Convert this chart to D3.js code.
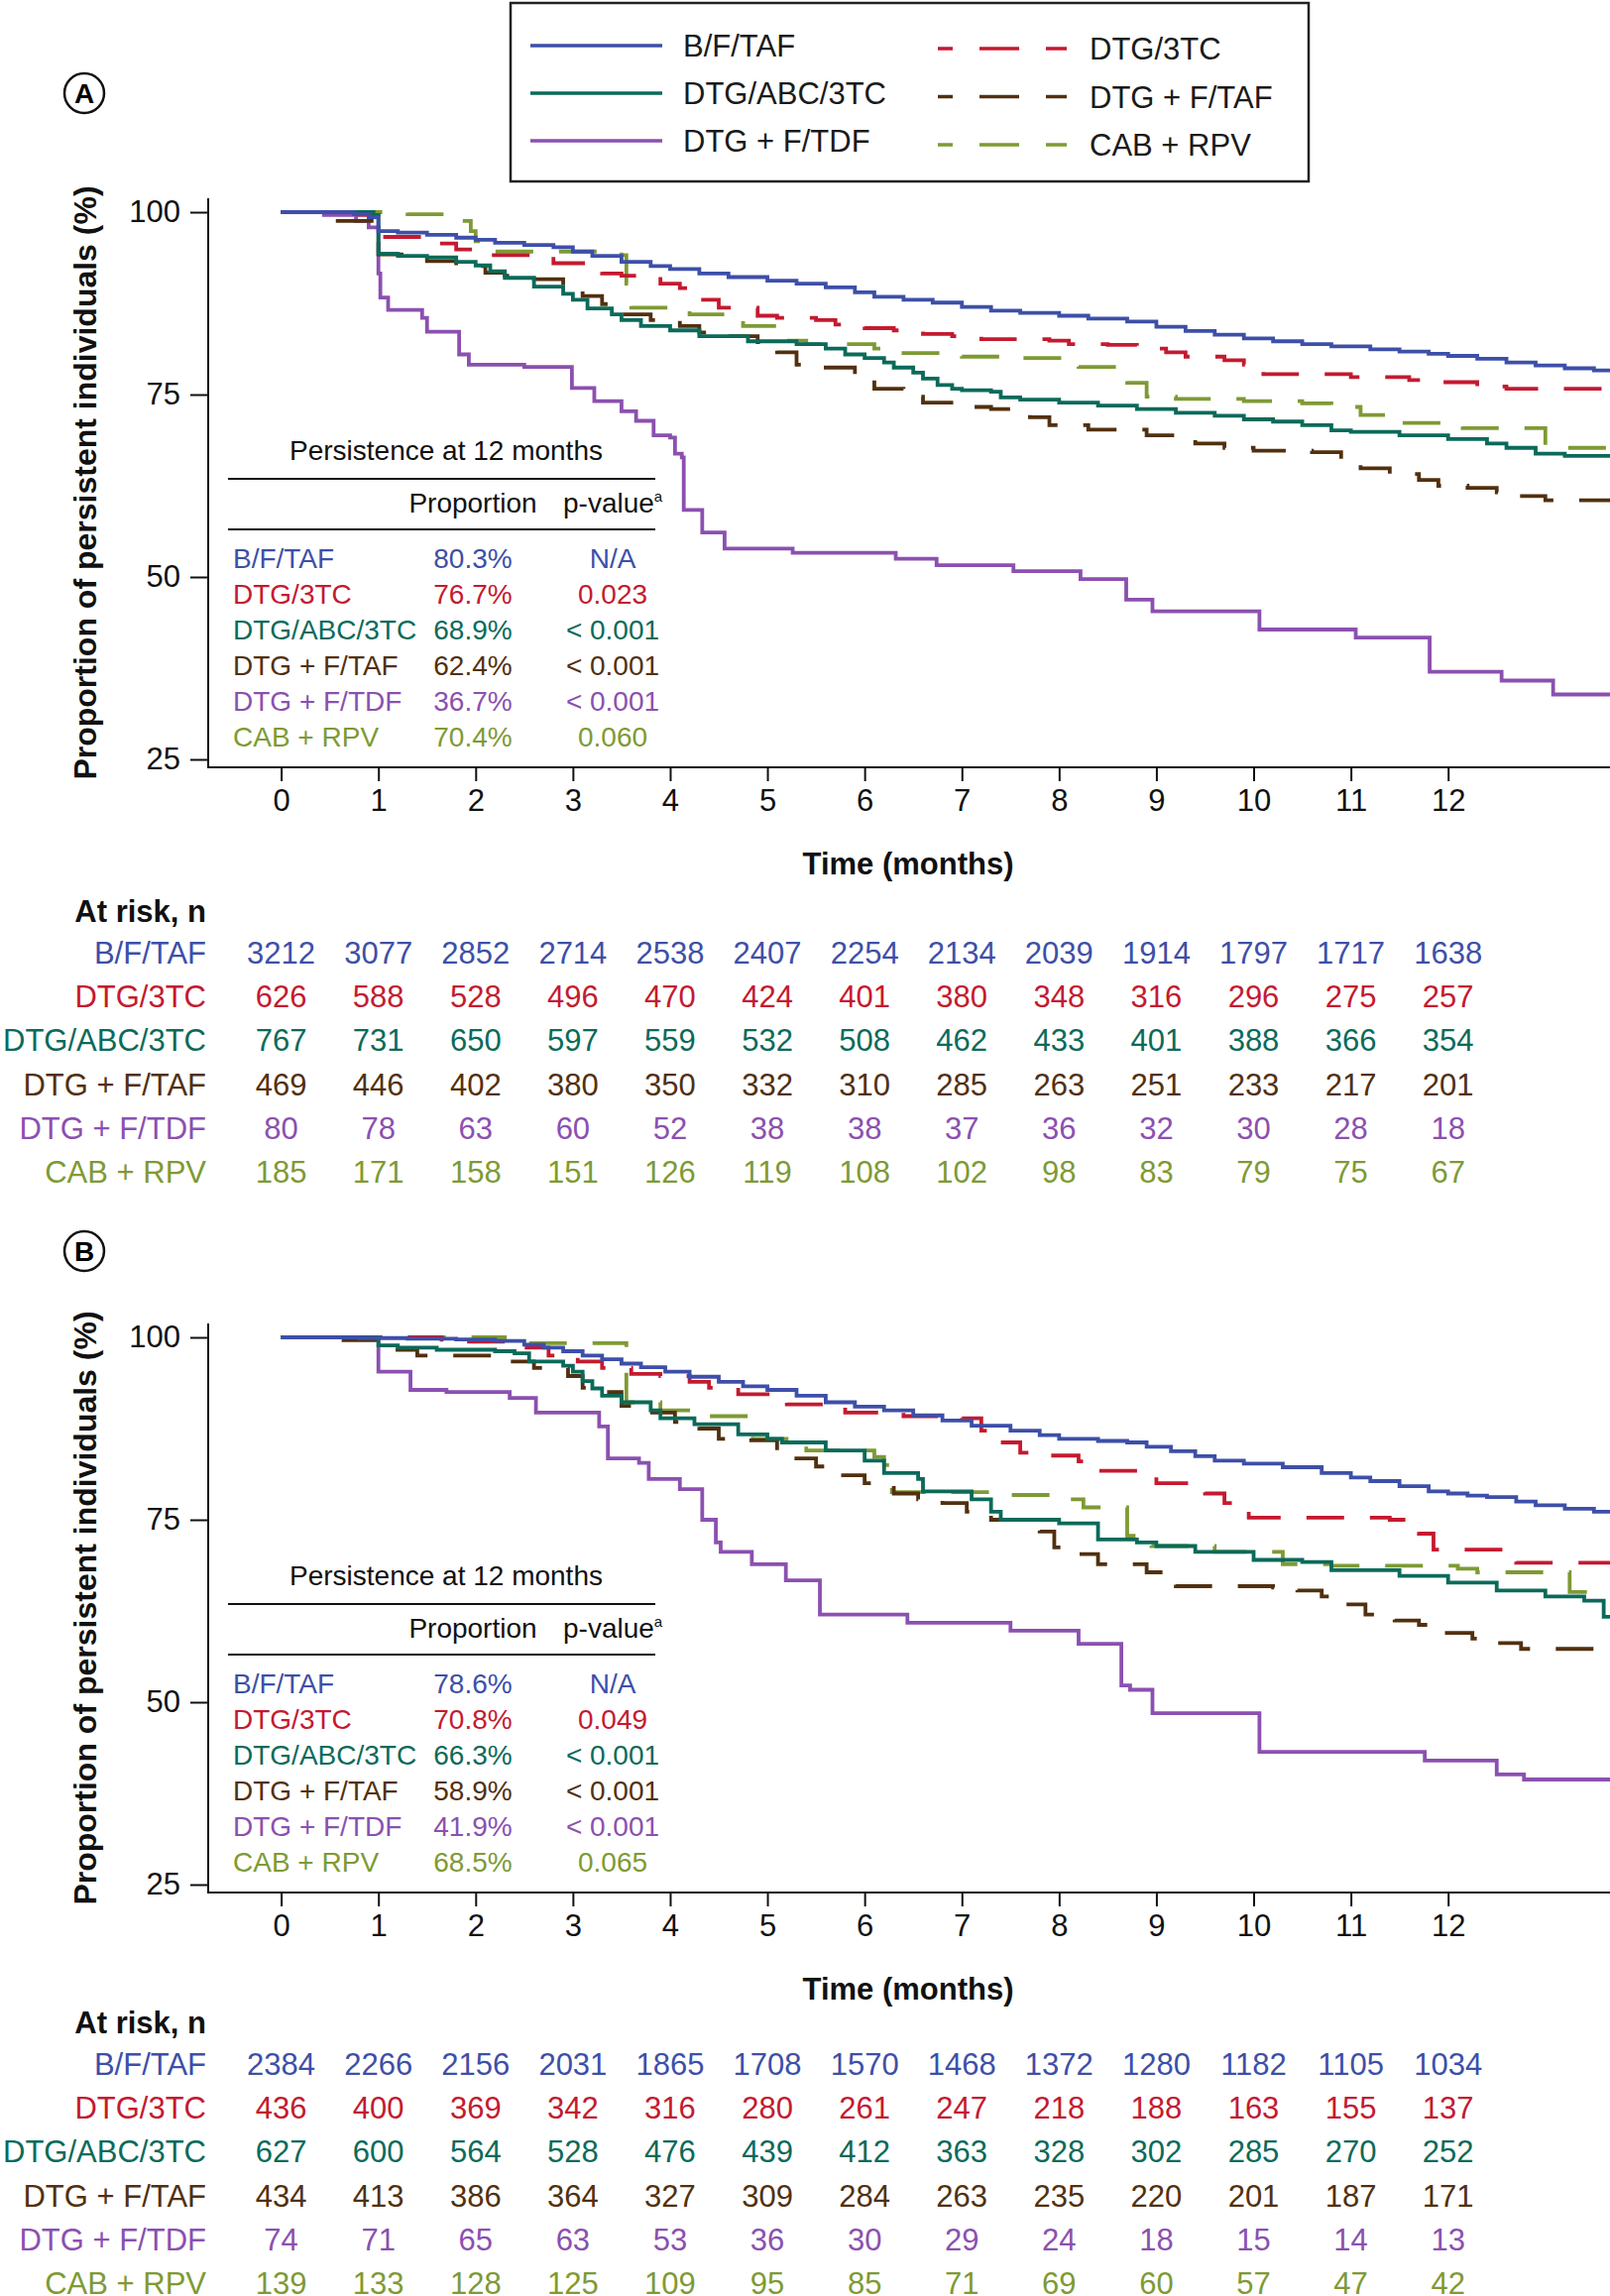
<!DOCTYPE html>
<html>
<head>
<meta charset="utf-8">
<script src="https://cdn.jsdelivr.net/npm/d3@7/dist/d3.min.js"></script>
<style>
  body { margin: 0; background: #fff; }
  svg { display: block; font-family: "Liberation Sans", Arial, Helvetica, sans-serif; }
</style>
</head>
<body>
<div id="chart"></div>
<script>
// ---- data ----
var groups = ["B/F/TAF", "DTG/3TC", "DTG/ABC/3TC", "DTG + F/TAF", "DTG + F/TDF", "CAB + RPV"];
var colors = ["#3d4fa8", "#c41a30", "#0b6a5a", "#52300f", "#8b50b0", "#7e9a34"];
var dashed = [false, true, false, true, false, true];
var monthTicks = [0, 1, 2, 3, 4, 5, 6, 7, 8, 9, 10, 11, 12];
var yTicks = [25, 50, 75, 100];

// panel A: Kaplan-Meier steps [month, %]
var bftafA = [[0,100],[0.5,100],[0.75,99.7],[0.9,99.3],[1.0,97.4],[1.2,97.2],[1.5,96.9],[1.8,96.5],[2.0,96.2],[2.2,95.8],[2.5,95.5],[2.8,95.2],[3.0,94.6],[3.2,94.0],[3.5,93.2],[3.8,92.6],[4.0,92.2],[4.3,91.6],[4.6,91.1],[5.0,90.6],[5.3,90.2],[5.6,89.7],[5.9,89.0],[6.1,88.4],[6.4,88.0],[6.7,87.6],[7.0,87.0],[7.3,86.5],[7.6,86.2],[8.0,85.8],[8.3,85.4],[8.7,85.0],[9.0,84.3],[9.3,83.7],[9.6,83.2],[9.9,82.7],[10.2,82.3],[10.5,81.9],[10.8,81.6],[11.2,81.2],[11.5,80.9],[11.8,80.6],[12.0,80.3],[12.3,79.9],[12.6,79.4],[12.9,79.0],[13.2,78.6],[13.5,78.3],[13.7,78.1]];
var dtg3tcA = [[0,100],[0.8,99.6],[1.0,96.6],[1.6,95.7],[1.8,94.9],[2.1,94.1],[2.8,93.0],[3.3,91.6],[3.5,91.3],[3.9,90.2],[4.1,89.6],[4.3,88.0],[4.5,86.9],[4.9,85.8],[5.1,85.5],[5.5,85.2],[5.7,84.6],[6.0,84.1],[6.3,83.8],[6.6,83.3],[6.9,83.0],[7.2,82.6],[7.9,82.4],[8.1,81.9],[8.5,81.8],[8.8,81.3],[9.1,80.8],[9.3,80.2],[9.7,79.7],[9.9,79.1],[10.1,77.8],[11.0,77.4],[11.6,77.0],[11.9,76.7],[12.3,76.1],[12.6,75.8],[13.7,75.6]];
var dtgabcA = [[0,100],[0.95,99.6],[1.0,94.3],[1.2,94.0],[1.5,93.8],[1.8,93.2],[2.0,92.7],[2.15,91.9],[2.3,91.0],[2.6,89.8],[2.9,88.8],[3.0,88.0],[3.15,86.8],[3.4,86.0],[3.5,85.2],[3.7,84.4],[4.0,83.8],[4.3,83.0],[4.8,82.3],[5.3,81.9],[5.6,81.3],[5.8,80.5],[6.0,80.0],[6.2,79.4],[6.3,78.7],[6.5,78.0],[6.6,77.2],[6.75,76.3],[6.9,75.8],[7.0,75.6],[7.3,75.4],[7.4,74.6],[7.6,74.3],[8.0,73.9],[8.4,73.5],[8.8,73.0],[9.2,72.5],[9.6,72.1],[9.9,71.6],[10.2,71.3],[10.5,70.8],[10.8,70.1],[11.0,69.9],[11.5,69.4],[12.0,68.9],[12.4,68.3],[12.6,67.7],[12.9,66.9],[13.2,66.6],[13.7,66.4]];
var dtgftafA = [[0,100],[0.55,98.8],[1.0,94.2],[1.5,93.3],[1.8,92.6],[2.1,91.7],[2.3,91.3],[2.6,90.8],[2.9,90.0],[3.1,88.5],[3.3,87.4],[3.5,86.0],[3.8,85.2],[4.1,84.4],[4.3,83.5],[4.6,83.0],[4.9,82.2],[5.1,80.8],[5.3,79.1],[5.6,78.7],[5.9,77.6],[6.1,75.8],[6.4,74.7],[6.6,73.9],[7.0,73.3],[7.3,73.0],[7.7,71.9],[7.9,70.8],[8.3,70.2],[8.9,69.4],[9.2,69.1],[9.4,68.3],[9.7,67.7],[10.0,67.3],[10.6,67.1],[10.9,66.0],[11.1,64.9],[11.4,64.1],[11.7,63.3],[11.9,62.5],[12.2,62.2],[12.5,61.6],[12.7,61.1],[13.0,60.5],[13.7,60.5]];
var dtgftdfA = [[0,100],[0.44,99.6],[0.77,98.8],[0.9,97.9],[1.0,91.6],[1.02,88.3],[1.1,86.6],[1.45,85.5],[1.5,83.6],[1.83,80.5],[1.93,79.1],[2.5,78.8],[2.99,75.9],[3.22,74.1],[3.5,72.7],[3.65,71.4],[3.83,69.4],[4.0,69.1],[4.05,66.9],[4.12,66.4],[4.14,59.2],[4.33,56.1],[4.56,53.9],[5.26,53.3],[6.32,52.5],[6.74,51.6],[7.53,50.8],[8.22,49.7],[8.69,46.9],[8.96,45.3],[10.06,42.8],[11.05,41.7],[11.81,37.0],[12.55,35.8],[13.08,33.9],[13.7,33.9]];
var cabrpvA = [[0,100],[1.3,99.7],[1.85,98.8],[1.95,97.4],[2.0,96.0],[2.2,94.6],[3.5,94.1],[3.55,90.2],[3.6,86.9],[4.2,86.0],[4.75,84.4],[5.1,82.4],[5.4,81.9],[6.1,81.3],[6.4,80.7],[7.0,80.2],[7.6,80.0],[8.2,78.8],[8.7,76.6],[8.9,74.7],[9.2,74.4],[9.9,74.1],[10.5,73.8],[10.8,73.3],[11.1,72.2],[11.5,71.1],[12.15,70.4],[13.0,67.7],[13.7,67.7]];

// panel B
var bftafB = [[0,100],[0.8,99.9],[1.3,99.8],[1.8,99.7],[2.2,99.5],[2.5,99.0],[2.7,98.6],[2.9,98.1],[3.1,97.5],[3.3,97.0],[3.5,96.4],[3.7,95.9],[3.95,95.3],[4.2,94.6],[4.5,93.9],[4.75,93.3],[5.0,92.8],[5.3,92.0],[5.6,91.1],[5.9,90.5],[6.2,90.0],[6.5,89.3],[6.8,88.6],[7.1,87.9],[7.5,87.2],[7.8,86.6],[8.0,86.1],[8.4,85.8],[8.7,85.6],[8.9,85.0],[9.15,84.4],[9.4,83.7],[9.6,83.1],[9.9,82.7],[10.3,82.2],[10.7,81.4],[11.0,80.8],[11.2,80.3],[11.5,79.6],[11.8,78.9],[12.0,78.6],[12.2,78.3],[12.4,78.1],[12.7,77.5],[12.9,77.0],[13.2,76.5],[13.5,76.1],[13.7,75.9]];
var dtg3tcB = [[0,100],[1.65,99.4],[2.5,98.6],[2.75,97.5],[3.05,96.7],[3.3,95.8],[3.6,95.0],[3.9,94.7],[4.2,93.9],[4.4,93.1],[4.7,92.2],[5.2,90.8],[5.8,89.7],[6.4,89.2],[7.0,88.9],[7.2,87.2],[7.4,85.6],[7.6,84.2],[7.9,83.8],[8.2,83.0],[8.4,81.7],[9.0,80.0],[9.5,78.6],[9.7,77.3],[9.95,75.3],[11.4,75.0],[11.7,73.1],[11.85,70.9],[12.7,69.1],[13.7,69.1]];
var dtgabcB = [[0,100],[0.95,100],[1.0,98.9],[1.2,98.6],[1.6,98.3],[2.2,98.1],[2.4,97.8],[2.55,96.7],[2.9,96.1],[3.0,95.3],[3.1,94.0],[3.2,93.0],[3.3,92.0],[3.5,91.1],[3.8,90.0],[3.9,88.9],[4.25,88.1],[4.7,86.7],[5.0,86.1],[5.15,85.6],[5.6,84.5],[6.0,83.1],[6.2,81.4],[6.55,80.6],[6.6,78.9],[7.1,77.8],[7.3,76.1],[7.4,75.0],[8.0,74.5],[8.4,72.3],[8.8,71.9],[9.0,71.4],[9.4,70.6],[10.0,69.5],[10.5,69.2],[10.8,68.1],[11.5,67.3],[12.0,66.4],[12.5,65.3],[13.0,64.5],[13.4,63.9],[13.6,61.7],[13.7,61.7]];
var dtgftafB = [[0,100],[0.6,99.6],[1.1,98.3],[1.4,97.5],[2.35,96.7],[2.6,95.8],[2.95,94.7],[3.1,93.1],[3.3,92.5],[3.5,90.6],[3.75,89.7],[4.05,88.4],[4.3,87.5],[4.5,86.1],[4.8,85.9],[5.1,84.5],[5.25,83.4],[5.5,82.3],[5.75,81.1],[6.0,80.0],[6.3,78.6],[6.55,77.8],[6.8,77.3],[7.05,76.1],[7.3,75.0],[7.8,73.4],[7.95,71.2],[8.2,70.3],[8.4,68.9],[8.9,67.8],[9.2,65.9],[10.2,65.7],[10.45,65.3],[10.7,64.5],[10.95,63.4],[11.15,62.0],[11.45,61.2],[11.7,60.6],[11.95,59.5],[12.25,58.7],[12.5,58.1],[12.75,57.3],[13.6,57.3]];
var dtgftdfB = [[0,100],[0.97,100],[1.0,95.3],[1.33,92.8],[1.7,92.5],[2.35,91.7],[2.62,89.7],[3.27,87.8],[3.36,83.4],[3.68,82.8],[3.78,80.6],[4.1,79.2],[4.33,75.0],[4.47,71.9],[4.52,70.6],[4.84,68.9],[5.19,66.7],[5.54,62.0],[6.44,60.9],[7.5,59.8],[8.2,58.0],[8.64,52.3],[8.73,51.7],[8.96,48.5],[10.06,43.2],[11.76,42.0],[12.5,40.1],[12.78,39.4],[13.7,39.4]];
var cabrpvB = [[0,100],[2.3,99.2],[3.55,91.1],[3.9,90.0],[4.4,89.2],[4.85,86.1],[5.4,84.5],[6.1,83.6],[6.2,82.5],[6.28,78.8],[7.5,78.4],[8.1,77.8],[8.25,76.7],[8.7,72.8],[8.95,71.4],[9.6,70.6],[10.3,68.9],[10.8,68.7],[12.1,68.3],[12.3,67.8],[13.25,65.1],[13.6,65.1]];

// persistence at 12 months table
var proportionA = ["80.3%", "76.7%", "68.9%", "62.4%", "36.7%", "70.4%"];
var pValueA = ["N/A", "0.023", "< 0.001", "< 0.001", "< 0.001", "0.060"];
var proportionB = ["78.6%", "70.8%", "66.3%", "58.9%", "41.9%", "68.5%"];
var pValueB = ["N/A", "0.049", "< 0.001", "< 0.001", "< 0.001", "0.065"];

// numbers at risk
var atRiskA = [
  [3212, 3077, 2852, 2714, 2538, 2407, 2254, 2134, 2039, 1914, 1797, 1717, 1638],
  [626, 588, 528, 496, 470, 424, 401, 380, 348, 316, 296, 275, 257],
  [767, 731, 650, 597, 559, 532, 508, 462, 433, 401, 388, 366, 354],
  [469, 446, 402, 380, 350, 332, 310, 285, 263, 251, 233, 217, 201],
  [80, 78, 63, 60, 52, 38, 38, 37, 36, 32, 30, 28, 18],
  [185, 171, 158, 151, 126, 119, 108, 102, 98, 83, 79, 75, 67]
];
var atRiskB = [
  [2384, 2266, 2156, 2031, 1865, 1708, 1570, 1468, 1372, 1280, 1182, 1105, 1034],
  [436, 400, 369, 342, 316, 280, 261, 247, 218, 188, 163, 155, 137],
  [627, 600, 564, 528, 476, 439, 412, 363, 328, 302, 285, 270, 252],
  [434, 413, 386, 364, 327, 309, 284, 263, 235, 220, 201, 187, 171],
  [74, 71, 65, 63, 53, 36, 30, 29, 24, 18, 15, 14, 13],
  [139, 133, 128, 125, 109, 95, 85, 71, 69, 60, 57, 47, 42]
];

// ---- layout ----
var W = 1624, H = 2316;
var svg = d3.select("#chart").append("svg")
    .attr("width", W)
    .attr("height", H);

svg.append("rect").attr("width", W).attr("height", H).attr("fill", "#fff");

var x = d3.scaleLinear().domain([0, 12]).range([283.6, 1460.7]);

// legend box at the top
var legend = svg.append("g");
legend.append("rect")
    .attr("x", 515).attr("y", 3)
    .attr("width", 805).attr("height", 180)
    .attr("fill", "none")
    .attr("stroke", "#222")
    .attr("stroke-width", 2.5);

groups.forEach(function (g, i) {
    var col = i % 2, row = Math.floor(i / 2);
    var ly = col === 0 ? 46 + row * 48 : 49 + row * 48.5;
    var x0 = col === 0 ? 535 : 946, x1 = col === 0 ? 668 : 1076;
    legend.append("line")
        .attr("x1", x0).attr("x2", x1)
        .attr("y1", ly).attr("y2", ly)
        .attr("stroke", colors[i])
        .attr("stroke-width", 3.6)
        .attr("stroke-dasharray", dashed[i] ? "40,27" : null)
        .attr("stroke-dashoffset", dashed[i] ? 25 : null);
    legend.append("text")
        .attr("x", col === 0 ? 689 : 1099)
        .attr("y", ly + 11)
        .style("font-size", "31px")
        .style("fill", "#1a1a1a")
        .text(g);
});

function panelLabel(cx, cy, letter) {
    svg.append("circle")
        .attr("cx", cx).attr("cy", cy).attr("r", 20)
        .attr("fill", "none").attr("stroke", "#111").attr("stroke-width", 2.5);
    svg.append("text")
        .attr("x", cx).attr("y", cy + 10)
        .attr("text-anchor", "middle")
        .style("font-size", "28px")
        .style("font-weight", "700")
        .text(letter);
}

function drawPanel(dy, curves, proportion, pValue, atRisk, riskDy) {
    var y = d3.scaleLinear().domain([25, 100]).range([766 + dy, 214 + dy]);
    var g = svg.append("g");

    // y axis
    g.append("g")
        .attr("transform", "translate(210,0)")
        .call(d3.axisLeft(y).tickValues(yTicks).tickSize(18).tickPadding(10).tickSizeOuter(0))
        .call(function (a) { a.select(".domain").remove(); })
        .call(function (a) {
            a.selectAll("line").attr("stroke", "#111").attr("stroke-width", 2);
            a.selectAll("text").style("font-size", "31px").style("fill", "#111")
                .style("font-family", '"Liberation Sans", Arial, sans-serif');
        });
    g.append("line")
        .attr("x1", 210).attr("x2", 210)
        .attr("y1", 200 + dy).attr("y2", 775 + dy)
        .attr("stroke", "#111").attr("stroke-width", 2);

    // x axis
    g.append("g")
        .attr("transform", "translate(0," + (774 + dy) + ")")
        .call(d3.axisBottom(x).tickValues(monthTicks).tickSize(14).tickPadding(8).tickSizeOuter(0))
        .call(function (a) { a.select(".domain").remove(); })
        .call(function (a) {
            a.selectAll("line").attr("stroke", "#111").attr("stroke-width", 2);
            a.selectAll("text").style("font-size", "31px").style("fill", "#111")
                .style("font-family", '"Liberation Sans", Arial, sans-serif');
        });
    g.append("line")
        .attr("x1", 209).attr("x2", W)
        .attr("y1", 774 + dy).attr("y2", 774 + dy)
        .attr("stroke", "#111").attr("stroke-width", 2);

    // axis titles
    g.append("text")
        .attr("transform", "translate(97," + (487 + dy) + ") rotate(-90)")
        .attr("text-anchor", "middle")
        .style("font-size", "32px")
        .style("font-weight", "700")
        .style("fill", "#111")
        .text("Proportion of persistent individuals (%)");
    g.append("text")
        .attr("x", 916).attr("y", 882 + dy)
        .attr("text-anchor", "middle")
        .style("font-size", "31px")
        .style("font-weight", "700")
        .style("fill", "#111")
        .text("Time (months)");

    // persistence table
    var t = g.append("g").attr("transform", "translate(0," + dy + ")");
    t.append("text")
        .attr("x", 450).attr("y", 464)
        .attr("text-anchor", "middle")
        .style("font-size", "28px").style("fill", "#111")
        .text("Persistence at 12 months");
    [483, 534].forEach(function (ly) {
        t.append("line")
            .attr("x1", 230).attr("x2", 661)
            .attr("y1", ly).attr("y2", ly)
            .attr("stroke", "#111").attr("stroke-width", 2);
    });
    t.append("text")
        .attr("x", 477).attr("y", 517)
        .attr("text-anchor", "middle")
        .style("font-size", "28px").style("fill", "#111")
        .text("Proportion");
    var pv = t.append("text")
        .attr("x", 568).attr("y", 517)
        .style("font-size", "28px").style("fill", "#111");
    pv.append("tspan").text("p-value");
    pv.append("tspan").attr("dy", -11).style("font-size", "15px").text("a");

    groups.forEach(function (name, i) {
        var by = 573 + i * 36;
        t.append("text").attr("x", 235).attr("y", by)
            .style("font-size", "28px").style("fill", colors[i]).text(name);
        t.append("text").attr("x", 477).attr("y", by)
            .attr("text-anchor", "middle")
            .style("font-size", "28px").style("fill", colors[i]).text(proportion[i]);
        t.append("text").attr("x", 618).attr("y", by)
            .attr("text-anchor", "middle")
            .style("font-size", "28px").style("fill", colors[i]).text(pValue[i]);
    });

    // survival curves
    var line = d3.line()
        .x(function (d) { return x(d[0]); })
        .y(function (d) { return y(d[1]); })
        .curve(d3.curveStepAfter);
    var order = [4, 5, 3, 1, 2, 0];
    order.forEach(function (i) {
        g.append("path")
            .datum(curves[i])
            .attr("d", line)
            .attr("fill", "none")
            .attr("stroke", colors[i])
            .attr("stroke-width", 3.8)
            .attr("stroke-dasharray", dashed[i] ? "38,26" : null);
    });

    // numbers at risk
    var r = g.append("g").attr("transform", "translate(0," + riskDy + ")");
    r.append("text")
        .attr("x", 208).attr("y", 930)
        .attr("text-anchor", "end")
        .style("font-size", "31px").style("font-weight", "700").style("fill", "#111")
        .text("At risk, n");
    groups.forEach(function (name, i) {
        var by = 972 + i * 44.2;
        r.append("text")
            .attr("x", 208).attr("y", by)
            .attr("text-anchor", "end")
            .style("font-size", "31px").style("fill", colors[i])
            .text(name);
        r.selectAll(null)
            .data(atRisk[i])
            .enter().append("text")
            .attr("x", function (d, k) { return x(monthTicks[k]); })
            .attr("y", by)
            .attr("text-anchor", "middle")
            .style("font-size", "31px").style("fill", colors[i])
            .text(function (d) { return d; });
    });
}

panelLabel(85, 94, "A");
drawPanel(0, [bftafA, dtg3tcA, dtgabcA, dtgftafA, dtgftdfA, cabrpvA], proportionA, pValueA, atRiskA, 0);
panelLabel(85, 1262, "B");
drawPanel(1135, [bftafB, dtg3tcB, dtgabcB, dtgftafB, dtgftdfB, cabrpvB], proportionB, pValueB, atRiskB, 1121);
</script>
</body>
</html>
